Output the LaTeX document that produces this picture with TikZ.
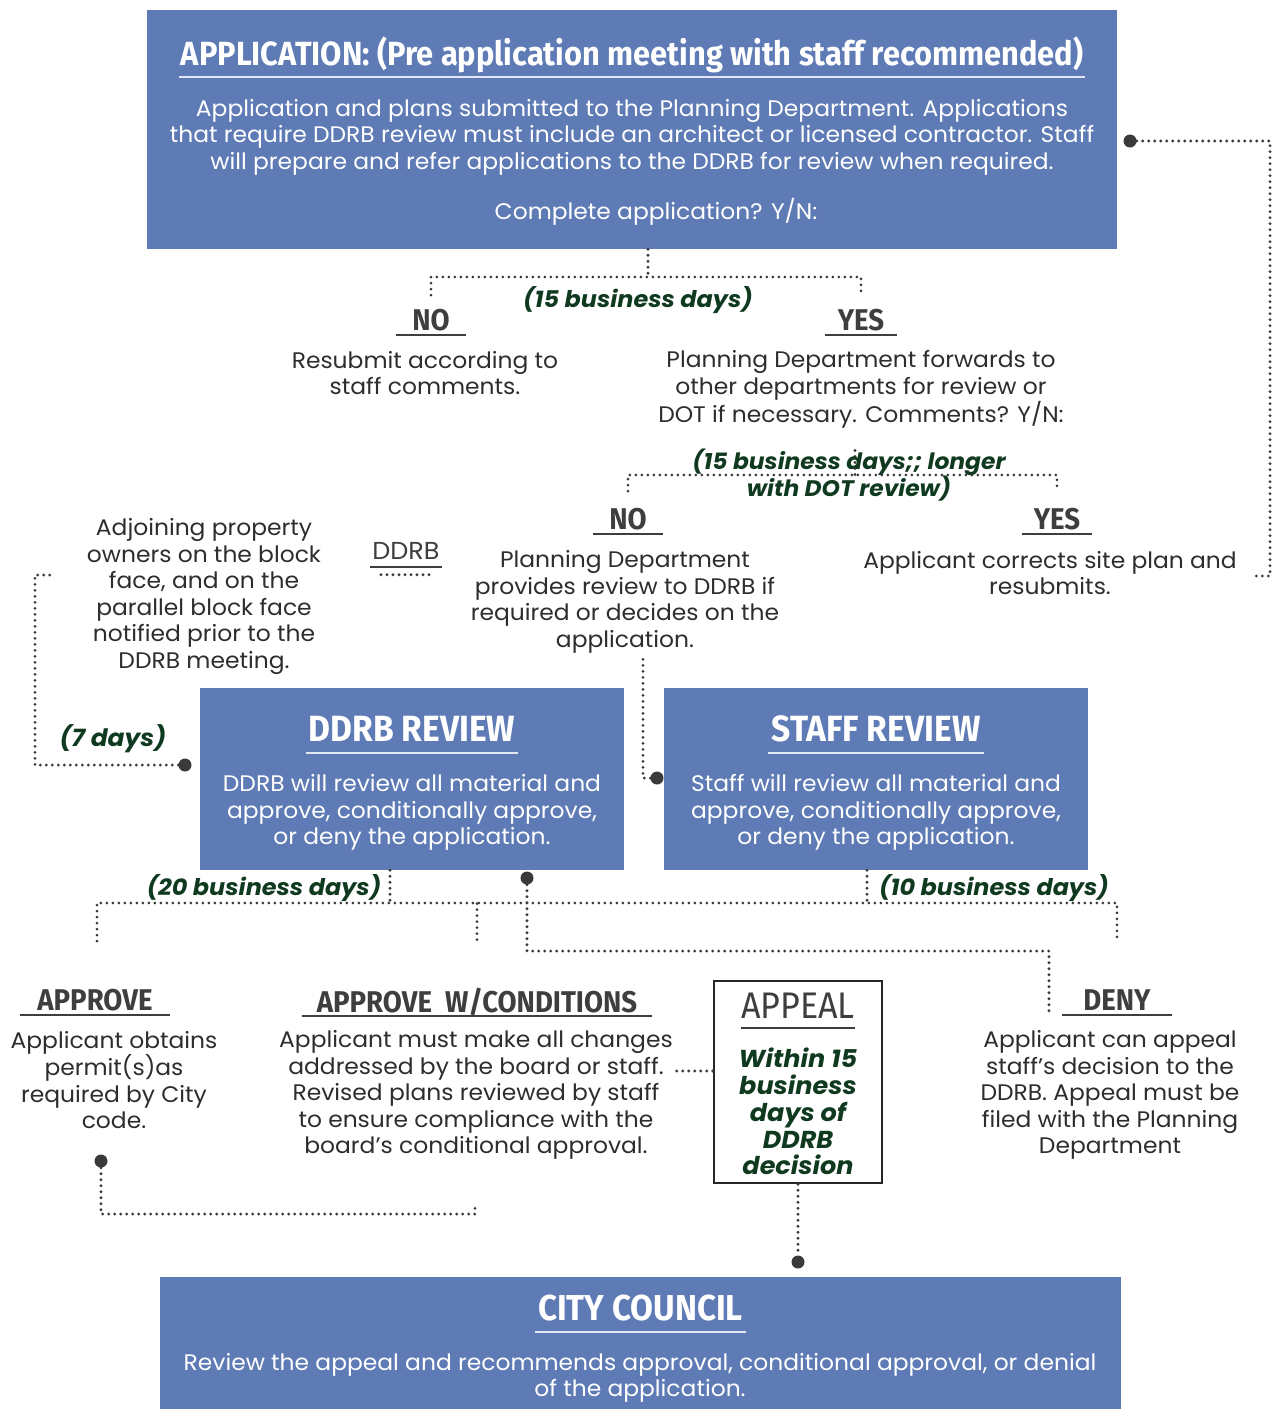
\documentclass[tikz,border=0pt]{standalone}
\usepackage{fontspec}
\setmainfont[FakeStretch=1.04]{Poppins}
\newfontfamily\headfont[FakeStretch=0.92]{Fira Sans}
\usepackage{xcolor}
\usepackage{tikz}
\usetikzlibrary{positioning}
\definecolor{boxblue}{RGB}{94,123,181}
\definecolor{daygreen}{RGB}{16,58,32}
\definecolor{ink}{RGB}{45,45,45}
\definecolor{headgray}{RGB}{62,62,62}
\definecolor{rulelight}{RGB}{226,231,243}
\definecolor{linkgray}{RGB}{58,58,58}
\tikzstyle{stage}=[rectangle,fill=boxblue,inner sep=0pt]
\tikzstyle{stagehead}=[anchor=base,inner sep=0pt,text=white,font=\headfont\bfseries\fontsize{33.5}{36}\selectfont]
\tikzstyle{stagetext}=[align=center,inner sep=0pt,text=white,font=\fontsize{22.5}{26.5}\selectfont]
\tikzstyle{note}=[align=center,inner sep=0pt,text=ink,font=\fontsize{22.5}{26.5}\selectfont]
\tikzstyle{answer}=[inner xsep=0pt,inner ysep=4pt,text depth=0pt,text=headgray,font=\headfont\bfseries\fontsize{30}{32}\selectfont]
\tikzstyle{days}=[align=center,inner sep=0pt,text=daygreen,font=\bfseries\itshape\fontsize{23}{26.5}\selectfont]
\tikzstyle{link}=[draw=linkgray,line width=3.1pt,line cap=round,dash pattern=on 0pt off 6pt]
\tikzstyle{knob}=[circle,fill=linkgray,inner sep=0pt,minimum size=13pt]
\tikzstyle{headrule}=[draw=rulelight,line width=2pt]
\tikzstyle{answerrule}=[draw=headgray,line width=2pt]
\begin{document}
\begin{tikzpicture}[x=1pt,y=-1pt]
  \useasboundingbox (0,0) rectangle (1273,1409);

  % application box
  \node at (632,129.5) [stage,minimum width=970pt,minimum height=239pt] (app) {};
  \node at (632,65) [stagehead] (apphead) {APPLICATION: (Pre application meeting with staff recommended)};
  \draw [headrule] ([xshift=-2pt,yshift=-12pt]apphead.base west) -- ([xshift=2pt,yshift=-12pt]apphead.base east);
  \node at (632,137) [stagetext] (apptext) {Application and plans submitted to the Planning Department. Applications\\that require DDRB review must include an architect or licensed contractor. Staff\\will prepare and refer applications to the DDRB for review when required.};
  \node at (656,212) [stagetext] (complete) {Complete application? Y/N:};
  \node at (1130,141) [knob] (appdot) {};

  % first answer
  \node at (638,300) [days] (days1) {(15 business days)};
  \node at (431,320) [answer,minimum width=70pt] (no1) {NO};
  \node at (861,320) [answer,minimum width=71pt] (yes1) {YES};
  \draw [answerrule] (no1.south west) -- (no1.south east);
  \draw [answerrule] (yes1.south west) -- (yes1.south east);
  \node at (425,373) [note] (resubmit) {Resubmit according to\\staff comments.};
  \node at (861,389.5) [note] (forward) {Planning Department forwards to\\other departments for review or\\DOT if necessary. Comments? Y/N:};
  \coordinate (fork1) at (648,277);
  \draw [link] (app.south -| fork1) -- (fork1);
  \draw [link] ([yshift=10pt]no1.north) |- (fork1) -| ([yshift=10pt]yes1.north);

  % second answer
  \coordinate (fork2) at (855,475);
  \draw [link] ([yshift=-22pt]forward.south -| fork2) -- (fork2);
  \node at (628,519) [answer,minimum width=70pt] (no2) {NO};
  \node at (1057,519) [answer,minimum width=70pt] (yes2) {YES};
  \draw [answerrule] (no2.south west) -- (no2.south east);
  \draw [answerrule] (yes2.south west) -- (yes2.south east);
  \draw [link] ([yshift=13pt]no2.north) |- (fork2) -| ([yshift=13pt]yes2.north);
  \node at (849,475) [days,font=\bfseries\itshape\fontsize{22.5}{26.5}\selectfont] (days2) {(15 business days;; longer\\with DOT review)};
  \node at (625,602) [note] (decides) {Planning Department\\provides review to DDRB if\\required or decides on the\\application.};
  \node at (1050,573) [note] (corrects) {Applicant corrects site plan and\\resubmits.};
  \coordinate (loop) at (1270,141);
  \draw [link] (appdot) -- (loop) |- ([xshift=14pt,yshift=-3pt]corrects.east);

  % neighbours notice
  \node at (204,596.5) [note] (adjoin) {Adjoining property\\owners on the block\\face, and on the\\parallel block face\\notified prior to the\\DDRB meeting.};
  \node at (406,551) [note,inner ysep=7pt,minimum width=72pt,text=headgray,font=\fontsize{24.5}{26.5}\selectfont] (ddrblab) {DDRB};
  \draw [answerrule,line width=1.6pt] (ddrblab.south west) -- (ddrblab.south east);
  \draw [link] ([xshift=-25pt,yshift=-8pt]ddrblab.south) -- ([xshift=26pt,yshift=-8pt]ddrblab.south);
  \node at (113,739) [days,font=\bfseries\itshape\fontsize{24}{26.5}\selectfont] (days7) {(7 days)};
  \node at (185,765) [knob] (ddrbdot) {};
  \coordinate (adjtail) at (55,575);
  \draw [link] (ddrbdot) -| (35,575) -- (adjtail);

  % review boxes
  \node at (412,779) [stage,minimum width=424pt,minimum height=182pt] (ddrb) {};
  \node at (412,741) [stagehead,font=\headfont\bfseries\fontsize{36.5}{38}\selectfont] (ddrbhead) {DDRB REVIEW};
  \draw [headrule] ([xshift=-3pt,yshift=-12pt]ddrbhead.base west) -- ([xshift=3pt,yshift=-12pt]ddrbhead.base east);
  \node at (412,812.5) [stagetext] (ddrbtext) {DDRB will review all material and\\approve, conditionally approve,\\or deny the application.};
  \node at (876,779) [stage,minimum width=424pt,minimum height=182pt] (staff) {};
  \node at (876,741) [stagehead,font=\headfont\bfseries\fontsize{36.5}{38}\selectfont] (staffhead) {STAFF REVIEW};
  \draw [headrule] ([xshift=-3pt,yshift=-12pt]staffhead.base west) -- ([xshift=3pt,yshift=-12pt]staffhead.base east);
  \node at (876,812.5) [stagetext] (stafftext) {Staff will review all material and\\approve, conditionally approve,\\or deny the application.};
  \node at (657,778) [knob] (staffdot) {};
  \draw [link] (staffdot) -| ([xshift=18pt,yshift=-4pt]decides.south);

  % decisions
  \node at (264,888) [days] (days20) {(20 business days)};
  \node at (994,888) [days] (days10) {(10 business days)};
  \node at (95,1000) [answer,minimum width=150pt] (approve) {APPROVE};
  \node at (477,1000) [answer,minimum width=350pt] (approvewc) {APPROVE\ \ W/CONDITIONS};
  \node at (1117,1000) [answer,minimum width=110pt] (deny) {DENY};
  \draw [answerrule] (approve.south west) -- (approve.south east);
  \draw [answerrule] (approvewc.south west) -- (approvewc.south east);
  \draw [answerrule] (deny.south west) -- (deny.south east);
  \coordinate (rail) at (0,903);
  \draw [link] ([xshift=2pt,yshift=44pt]approve.north) -- ([xshift=2pt]approve.north |- rail) -- (deny.north |- rail) -- ([yshift=44pt]deny.north);
  \draw [link] ([yshift=44pt]approvewc.north) -- (approvewc.north |- rail);
  \draw [link] ([xshift=-22pt]ddrb.south) -- ([xshift=-22pt]ddrb.south |- rail);
  \draw [link] ([xshift=-9pt]staff.south) -- ([xshift=-9pt]staff.south |- rail);
  \node at (527,878) [knob] (ddrbout) {};
  \coordinate (denyhook) at (1049,951);
  \draw [link] (ddrbout) |- (denyhook) -- (denyhook |- deny.south);

  \node at (114,1080) [note] (obtains) {Applicant obtains\\permit(s)as\\required by City\\code.};
  \node at (476,1095) [note] (changes) {Applicant must make all changes\\addressed by the board or staff.\\Revised plans reviewed by staff\\to ensure compliance with the\\board's conditional approval.};
  \node at (1110,1095) [note] (canappeal) {Applicant can appeal\\staff's decision to the\\DDRB. Appeal must be\\filed with the Planning\\Department};
  \node at (101,1161) [knob] (approvedot) {};
  \coordinate (approvetail) at (475,1203);
  \draw [link] (approvedot) |- (475,1214) -- (approvetail);

  % appeal
  \node at (798,1082) [rectangle,draw=black!85,line width=2.5pt,minimum width=168pt,minimum height=202pt] (appeal) {};
  \node at (798,1018) [anchor=base,inner sep=0pt,text=headgray,font=\headfont\fontsize{37}{40}\selectfont] (appealhead) {APPEAL};
  \draw [answerrule,line width=1.6pt] ([yshift=-10pt]appealhead.base west) -- ([yshift=-10pt]appealhead.base east);
  \node at (798,1111.5) [days,font=\bfseries\itshape\fontsize{24.5}{26.8}\selectfont] (appealdays) {Within 15\\business\\days of\\DDRB\\decision};
  \draw [link] ([yshift=11pt]appeal.west) -- ++(-36,0);
  \node at (798,1262) [knob] (councildot) {};
  \draw [link] (appeal.south) -- (councildot);

  % city council
  \node at (640.5,1343) [stage,minimum width=961pt,minimum height=132pt] (council) {};
  \node at (640.5,1320) [stagehead,font=\headfont\bfseries\fontsize{36}{38}\selectfont] (councilhead) {CITY COUNCIL};
  \draw [headrule] ([xshift=-3pt,yshift=-12pt]councilhead.base west) -- ([xshift=3pt,yshift=-12pt]councilhead.base east);
  \node at (640,1378) [stagetext] (counciltext) {Review the appeal and recommends approval, conditional approval, or denial\\of the application.};
\end{tikzpicture}
\end{document}
